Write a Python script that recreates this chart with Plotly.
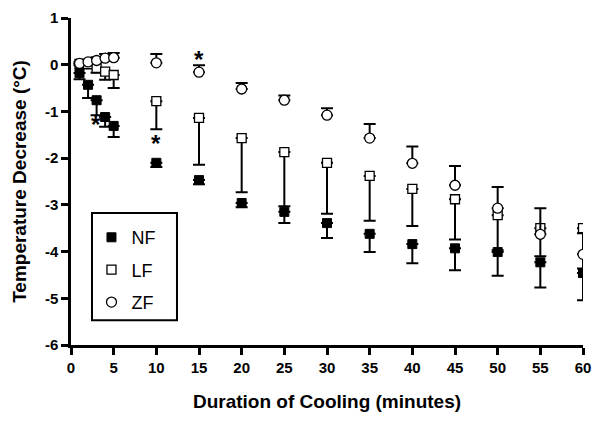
import plotly.graph_objects as go

# Data (minutes)
time = [1, 2, 3, 4, 5, 10, 15, 20, 25, 30, 35, 40, 45, 50, 55, 60]

nf_mean = [-0.18, -0.43, -0.76, -1.12, -1.31, -2.10, -2.47, -2.96, -3.15, -3.39, -3.62, -3.84, -3.93, -4.01, -4.23, -4.46]
nf_err = [0.13, 0.28, 0.32, 0.21, 0.24, 0.09, 0.09, 0.09, 0.24, 0.32, 0.39, 0.41, 0.47, 0.51, 0.54, 0.58]

lf_mean = [0.02, 0.01, -0.07, -0.15, -0.22, -0.78, -1.14, -1.57, -1.87, -2.10, -2.38, -2.66, -2.88, -3.22, -3.50, -3.50]
lf_err = [0.03, 0.06, 0.10, 0.17, 0.28, 0.60, 1.00, 1.16, 1.16, 1.09, 0.96, 0.79, 0.86, 0.75, 0.60, 0.86]

zf_mean = [0.03, 0.06, 0.09, 0.14, 0.15, 0.04, -0.16, -0.52, -0.76, -1.08, -1.57, -2.11, -2.58, -3.07, -3.63, -4.06]
zf_err = [0.03, 0.05, 0.07, 0.09, 0.10, 0.19, 0.15, 0.13, 0.10, 0.15, 0.30, 0.36, 0.41, 0.45, 0.56, 0.45]

star_x = [2.9, 10, 15]
star_y = [-1.28, -1.68, 0.12]

x_ticks = [0, 5, 10, 15, 20, 25, 30, 35, 40, 45, 50, 55, 60]
x_ticktext = ["0", "5", "10", "15", "20", "25", "30", "35", "40", "45", "50", "55", "60"]
y_ticks = [1, 0, -1, -2, -3, -4, -5, -6]
y_ticktext = ["1", "0", "-1", "-2", "-3", "-4", "-5", "-6"]

FONT = "Liberation Sans, Arial, sans-serif"

fig = go.Figure()

zeros = [0] * len(time)

fig.add_trace(go.Scatter(
    x=time, y=nf_mean, mode="markers", name="NF", legendgroup="a",
    marker=dict(symbol="square", size=9, color="black", line=dict(color="black", width=1)),
    error_y=dict(type="data", symmetric=False, array=zeros, arrayminus=nf_err,
                 color="black", thickness=2, width=6),
))
fig.add_trace(go.Scatter(
    x=time, y=lf_mean, mode="markers", name="LF", legendgroup="b",
    marker=dict(symbol="square", size=9, color="white", line=dict(color="black", width=1.3)),
    error_y=dict(type="data", symmetric=False, array=zeros, arrayminus=lf_err,
                 color="black", thickness=2, width=6),
))
fig.add_trace(go.Scatter(
    x=time, y=zf_mean, mode="markers", name="ZF", legendgroup="c",
    marker=dict(symbol="circle", size=10, color="white", line=dict(color="black", width=1.3)),
    error_y=dict(type="data", symmetric=False, array=zf_err, arrayminus=zeros,
                 color="black", thickness=2, width=6),
))

for sx, sy in zip(star_x, star_y):
    fig.add_annotation(x=sx, y=sy, text="<b>*</b>", showarrow=False,
                       font=dict(family=FONT, size=24, color="black"))

# legend frame
fig.add_shape(type="rect", xref="paper", yref="paper",
              x0=0.041, x1=0.207, y0=0.076, y1=0.404,
              line=dict(color="black", width=2), fillcolor="rgba(0,0,0,0)")

fig.update_layout(
    width=594, height=414,
    margin=dict(l=63, r=19, t=10, b=77),
    plot_bgcolor="white", paper_bgcolor="white",
    font=dict(family=FONT, color="black"),
    showlegend=True,
    legend=dict(x=0.04, y=0.385, xanchor="left", yanchor="top",
                bgcolor="rgba(0,0,0,0)", borderwidth=0,
                font=dict(family=FONT, size=18, color="black"),
                tracegroupgap=6, itemwidth=30),
    xaxis=dict(range=[0, 60], tickvals=x_ticks, ticktext=["<b>%s</b>" % t for t in x_ticktext],
               showgrid=False, zeroline=False, showline=True, linecolor="black", linewidth=2.5,
               ticks="outside", ticklen=7, tickwidth=2.5, tickcolor="black", automargin=False,
               tickfont=dict(family=FONT, size=15, color="black"),
               title=dict(text="<b>Duration of Cooling (minutes)</b>",
                          font=dict(family=FONT, size=19, color="black"), standoff=20)),
    yaxis=dict(range=[-6, 1], tickvals=y_ticks, ticktext=["<b>%s</b>" % t for t in y_ticktext],
               showgrid=False, zeroline=False, showline=True, linecolor="black", linewidth=2.5,
               ticks="outside", ticklen=7, tickwidth=2.5, tickcolor="black", automargin=False,
               tickfont=dict(family=FONT, size=15, color="black"),
               title=dict(text="<b>Temperature Decrease (°C)</b>",
                          font=dict(family=FONT, size=19, color="black"), standoff=14)),
)

fig.write_html("out.html")
